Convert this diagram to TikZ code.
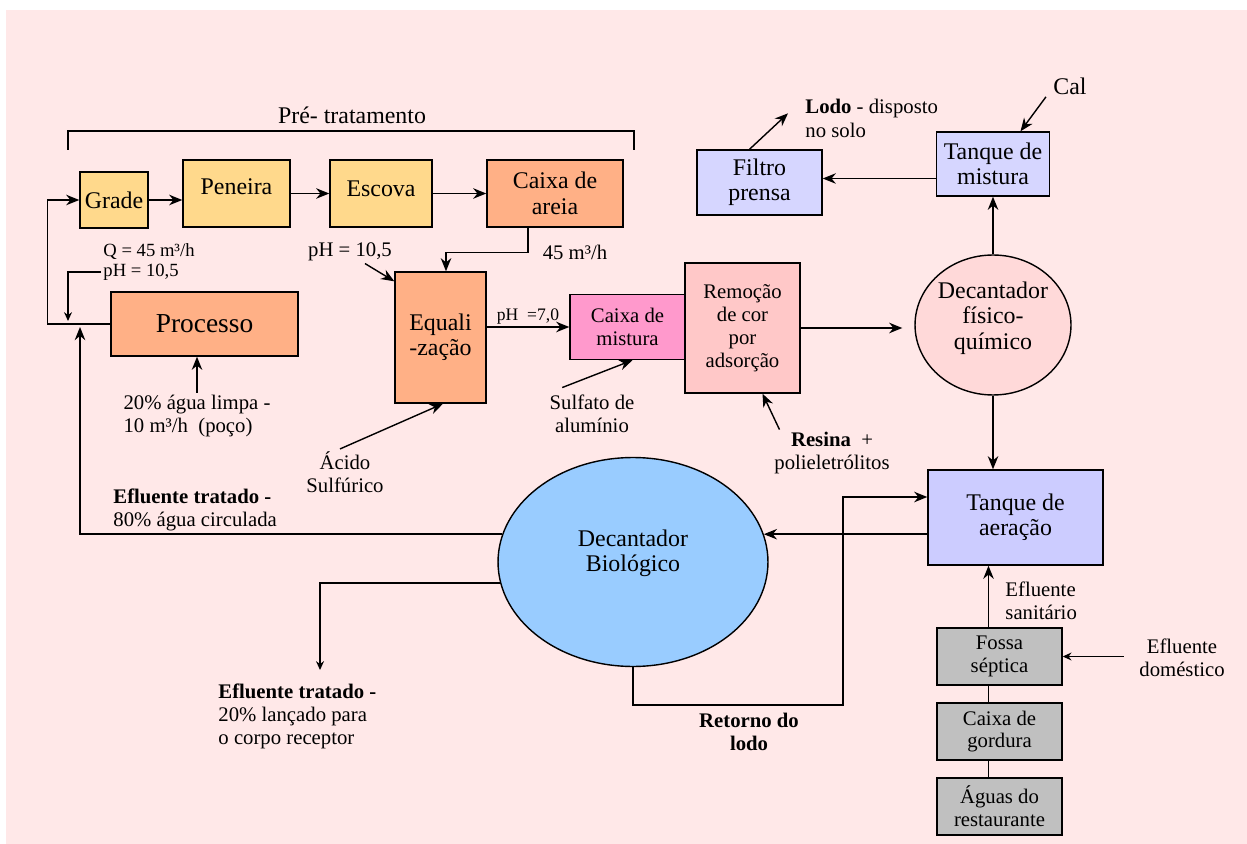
\documentclass[tikz,border=0pt]{standalone}
\usepackage{fontspec}
\setmainfont{Liberation Serif}
\usetikzlibrary{arrows.meta, calc, shapes.geometric}

\definecolor{fundo}{RGB}{255,232,232}
\definecolor{amarelo}{RGB}{255,217,140}
\definecolor{salmao}{RGB}{255,176,134}
\definecolor{rosa}{RGB}{255,153,204}
\definecolor{rosaclaro}{RGB}{255,200,200}
\definecolor{rosafq}{RGB}{255,217,217}
\definecolor{lilas}{RGB}{214,214,255}
\definecolor{lilasaer}{RGB}{204,204,255}
\definecolor{azul}{RGB}{153,204,255}
\definecolor{cinza}{RGB}{192,192,192}

\begin{document}
\begin{tikzpicture}[
    x=0.02cm, y=-0.02cm,
    ->, >={Stealth[length=7.5pt,width=6pt]},
    line width=0.8pt,
    box/.style={draw, rectangle, align=center, inner sep=2pt,
        font=\fontsize{13.6}{14.5}\selectfont},
    cinzabox/.style={box, fill=cinza, minimum width=2.50cm, minimum height=1.14cm,
        font=\fontsize{11.8}{13}\selectfont},
    tanque/.style={draw, ellipse, align=center, inner sep=0pt,
        font=\fontsize{13.6}{14.5}\selectfont},
    lbl/.style={align=center, inner sep=1pt, font=\fontsize{11.8}{13.2}\selectfont},
    lblb/.style={lbl, font=\fontsize{11.8}{13.2}\selectfont\bfseries},
    pequena/.style={>={Stealth[length=5pt,width=4.5pt]}}
]

    \useasboundingbox (0,0) rectangle (1247,844);
    \fill[fundo] (6,10) rectangle (1247,844);

    % Pre-tratamento
    \node[lbl, font=\fontsize{13.6}{15}\selectfont] (pretrat) at (352,115) {Pré- tratamento};
    \draw[-] (68,150) -- (68,131) -- (634,131) -- (634,150);

    \node[box, fill=amarelo, minimum width=1.36cm, minimum height=1.12cm] (grade) at (114,200) {Grade};
    \node[box, fill=amarelo, minimum width=2.14cm, minimum height=1.34cm, text depth=8pt] (peneira) at (236.5,193.5) {Peneira};
    \node[box, fill=amarelo, minimum width=2.04cm, minimum height=1.34cm, text depth=6pt] (escova) at (381,193.5) {Escova};
    \node[box, fill=salmao, minimum width=2.72cm, minimum height=1.34cm] (areia) at (555,193.5) {Caixa de\\areia};

    \draw[->] (grade.east) -- (grade.east -| peneira.west);
    \foreach \a/\b in {peneira/escova, escova/areia}
        \draw[->] (\a) -- (\b);

    % Processo e equalizacao
    \node[box, fill=salmao, minimum width=3.74cm, minimum height=1.28cm,
        font=\fontsize{15.6}{17}\selectfont] (processo) at (204.5,324) {Processo};
    \node[box, fill=salmao, minimum width=1.82cm, minimum height=2.62cm] (equal) at (440.5,337.5) {Equali\\-zação};

    \node[lbl, align=left, anchor=west, font=\fontsize{10.6}{11.4}\selectfont] (qph) at (101,262) {Q = 45 m³/h\\pH = 10,5};
    \coordinate (jA) at (68,321);
    \coordinate (jB) at (80,327);
    \draw[->] (processo.west) -- ++(-63,0) |- (grade.west);
    \draw[->, pequena] ([yshift=-0.2cm]qph.west) -| (jA);

    \node[lbl, align=left] (agua) at (197,416) {20\% água limpa -\\10 m³/h\ \ (poço)};
    \draw[->] (agua.north) -- (agua.north |- processo.south);

    \node[lbl] (ph1) at (350,252) {pH = 10,5};
    \node[lbl] (q45) at (575,252) {45 m³/h};
    \draw[->] ([xshift=-0.54cm]areia.south) -- ++(0,25) -| ([xshift=0.11cm]equal.north);
    \draw[->] ([xshift=0.3cm]ph1.south) -- ([yshift=-0.2cm]equal.north west);

    \node[lbl] (acido) at (345,472) {Ácido\\Sulfúrico};
    \draw[->] ([xshift=-0.1cm]acido.north) -- ([xshift=0.05cm]equal.south);

    % Tratamento fisico-quimico
    \node[box, fill=rosa, minimum width=2.30cm, minimum height=1.30cm,
        font=\fontsize{11.8}{13}\selectfont] (mistura) at (627.5,327) {Caixa de\\mistura};
    \node[box, fill=rosaclaro, minimum width=2.30cm, minimum height=2.60cm,
        font=\fontsize{11.8}{13}\selectfont] (remocao) at (742.5,328) {Remoção\\de cor\\por\\adsorção};
    \draw[->] (equal.east |- mistura.west) -- node[above, inner sep=1pt, font=\fontsize{10}{11}\selectfont] (ph7) {pH\ \ =7,0} (mistura.west);

    \node[lbl] (sulfato) at (592,414) {Sulfato de\\alumínio};
    \draw[->] ([xshift=0.3cm,yshift=0.1cm]sulfato.north west) -- ([xshift=0.1cm]mistura.south);

    \node[lbl] (resina) at (832,453) {\textbf{Resina}\ \ +\\polieletrólitos};
    \draw[->] ([xshift=0.15cm]resina.north west) -- ([xshift=0.4cm]remocao.south);

    \node[tanque, fill=rosafq, minimum width=3.12cm, minimum height=2.80cm] (decfq) at (993,325) {Decantador\\físico-\\químico\\[-8pt]\strut};
    \draw[->, shorten >=0.24cm] (remocao.east) -- (remocao.east -| decfq.west);

    % Lodo
    \node[box, fill=lilas, minimum width=2.26cm, minimum height=1.28cm] (tqmist) at (993,164) {Tanque de\\mistura};
    \node[box, fill=lilas, minimum width=2.50cm, minimum height=1.30cm] (filtro) at (759.5,182.5) {Filtro\\prensa};
    \draw[->] (decfq.north) -- (tqmist.south);
    \draw[->] ([yshift=0.08cm]tqmist.west |- filtro.east) -- ([yshift=0.08cm]filtro.east);

    \node[lbl, font=\fontsize{13.6}{15}\selectfont] (cal) at (1070,86) {Cal};
    \draw[->] ([xshift=-0.1cm]cal.south west) -- ([xshift=0.55cm]tqmist.north);

    \node[lbl, align=left, anchor=north west] (lodo) at (803,97) {\textbf{Lodo} - disposto\\no solo};
    \draw[->] ([xshift=-0.2cm]filtro.north) -- ([xshift=-0.3cm,yshift=0.1cm]lodo.west);

    % Tratamento biologico
    \node[box, fill=lilasaer, minimum width=3.50cm, minimum height=1.90cm] (tqaer) at (1015.5,517.5) {Tanque de\\aeração};
    \node[tanque, fill=azul, minimum width=5.40cm, minimum height=4.18cm] (decbio) at (633,562) {Decantador\\Biológico\\[-6pt]\strut};
    \draw[->] (decfq.south) -- (decfq.south |- tqaer.north);
    \draw[->] (tqaer.west |- decbio.12) -- (decbio.12);

    \coordinate (ret) at (843,705);
    \draw[->] (decbio.south) |- (ret) |- ([yshift=0.41cm]tqaer.west);
    \node[lblb] (retlbl) at (749,732) {Retorno do\\lodo};

    \node[lbl, align=left, anchor=north west] (eflA) at (111,486) {\textbf{Efluente tratado -}\\80\% água circulada};
    \draw[->] (decbio.168) -| (jB);

    \node[lbl, align=left, anchor=north west] (eflB) at (216,681) {\textbf{Efluente tratado -}\\20\% lançado para\\o corpo receptor};
    \coordinate (saida) at (320,670);
    \draw[->, pequena] (decbio.189) -| (saida);

    % Efluente sanitario
    \foreach \nome/\y/\txt in {fossa/656.5/{Fossa\\séptica},
        gordura/731.5/{Caixa de\\gordura}, aguas/806.5/{Águas do\\restaurante}}
        \node[cinzabox] (\nome) at (999.5,\y) {\txt};

    \draw[->] ([xshift=-0.22cm]fossa.north) -- ([xshift=-0.22cm]fossa.north |- tqaer.south);
    \draw[-] ([xshift=-0.22cm]fossa.south) -- ([xshift=-0.22cm]gordura.north);
    \draw[-] ([xshift=-0.22cm]gordura.south) -- ([xshift=-0.22cm]aguas.north);

    \node[lbl, align=left, anchor=west] (sanit) at (1003,601) {Efluente\\sanitário};
    \node[lbl] (domest) at (1182,658) {Efluente\\doméstico};
    \draw[->, pequena] ([xshift=-0.26cm]domest.west |- fossa.east) -- (fossa.east);

\end{tikzpicture}
\end{document}
